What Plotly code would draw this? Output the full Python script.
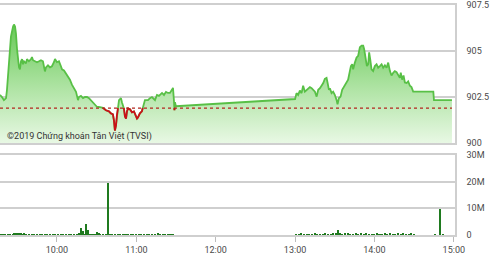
import numpy as np
import pandas as pd
import plotly.graph_objects as go

DAY = "2019-01-02"

# minutes after 09:00 and index values
price_min = [16.9, 18.4, 19.9, 21.5, 22.2, 23.7, 25.2, 26.8, 27.5, 28.3, 29.0, 29.8, 30.5, 31.3, 32.0,
             32.8, 33.6, 34.3, 35.1, 36.6, 37.3, 38.8, 40.4, 41.1, 41.9, 43.4, 44.9, 46.4, 47.9, 49.4,
             50.2, 50.9, 51.7, 53.2, 54.7, 56.2, 57.7, 58.5, 60.0, 61.5, 63.0, 63.8, 65.3, 66.8, 68.3,
             69.8, 71.3, 72.9, 74.4, 75.9, 76.6, 78.1, 79.7, 81.2, 82.7, 84.2, 85.7, 88.0, 90.2, 92.5,
             94.8, 97.0, 99.3, 100.8, 102.3, 103.1, 103.8, 104.6, 105.3, 106.1, 106.9, 108.4, 109.1, 110.6,
             111.4, 112.2, 112.9, 113.7, 115.2, 116.7, 118.2, 119.7, 120.5, 121.2, 122.7, 124.2, 125.0,
             126.5, 127.3, 128.8, 130.3, 131.8, 134.1, 135.6, 137.1, 139.4, 140.9, 142.4, 143.9, 145.4,
             146.9, 147.7, 148.4, 148.8, 149.2, 149.9,
             240.0, 241.1, 242.3, 243.6, 244.9, 246.1, 247.4, 248.7, 249.9, 251.2, 252.5, 253.7, 255.0,
             256.3, 257.5, 258.8, 260.0, 261.3, 262.5, 263.8, 264.6, 265.6, 266.3, 267.6, 268.8, 270.1,
             271.4, 272.1, 273.1, 274.4, 275.6, 277.1, 278.4, 280.1, 281.4, 282.2, 283.2, 283.9, 285.2,
             286.5, 287.7, 289.0, 290.3, 291.5, 292.2, 293.3, 294.3, 295.3, 296.0, 296.8, 297.8, 299.0,
             300.3, 301.6, 302.8, 304.1, 305.4, 306.6, 307.9, 309.2, 310.4, 311.7, 312.9, 314.2, 315.4,
             316.7, 317.9, 319.2, 319.9, 320.9, 322.0, 323.0, 324.3, 325.5, 326.8, 328.0, 329.3, 330.5,
             344.5, 345.0, 358.6]
price_val = [902.61, 902.50, 902.33, 902.44, 902.89, 904.56, 905.78, 906.33, 906.44, 906.33, 905.94, 905.11,
             904.44, 904.11, 904.00, 904.44, 904.56, 904.28, 904.44, 904.33, 904.56, 904.44, 904.56, 904.67,
             904.50, 904.44, 904.39, 904.44, 904.50, 904.44, 904.00, 903.89, 904.11, 904.22, 904.11, 904.17,
             904.39, 904.56, 904.39, 904.44, 904.17, 904.00, 903.94, 903.78, 903.61, 903.44, 903.17, 903.00,
             902.78, 902.33, 902.50, 902.56, 902.44, 902.50, 902.50, 902.44, 902.33, 902.11, 901.97, 901.95,
             901.91, 901.78, 901.72, 901.61, 901.56, 901.22, 900.67, 900.94, 901.50, 901.88, 902.33, 902.44,
             902.22, 901.88, 901.44, 901.33, 901.72, 901.88, 901.83, 901.67, 901.72, 901.50, 901.33, 901.39,
             901.61, 901.72, 901.95, 902.33, 902.33, 902.33, 902.44, 902.50, 902.33, 902.61, 902.56, 902.72,
             902.61, 902.78, 902.72, 902.72, 902.89, 903.00, 902.33, 901.78, 902.22, 902.00,
             902.39, 902.71, 902.61, 902.85, 902.71, 903.11, 902.79, 902.89, 902.98, 903.04, 902.98, 902.89,
             902.79, 902.52, 902.89, 902.98, 903.11, 903.26, 903.48, 903.54, 903.26, 902.89, 902.98, 902.71,
             902.79, 902.61, 902.33, 902.11, 902.43, 902.52, 902.89, 903.07, 903.26, 903.44, 903.91, 904.18,
             904.28, 904.00, 904.37, 904.65, 904.74, 905.21, 905.29, 905.29, 905.11, 904.46, 904.18, 904.28,
             904.93, 904.56, 904.00, 903.91, 904.18, 904.28, 904.09, 904.18, 904.28, 904.09, 904.22, 904.09,
             904.37, 903.91, 903.67, 903.82, 903.91, 903.85, 903.72, 903.54, 903.82, 903.44, 903.67, 903.29,
             903.26, 903.35, 903.11, 903.04, 902.79, 902.79, 902.79, 902.33, 902.33]

# volume (millions) at minutes after 09:00
vol_min = [17, 19, 21, 23, 25, 27, 28, 29, 30, 31, 32, 33, 34, 35, 36, 37, 39, 41, 43, 45, 47, 49, 51, 53,
           55, 57, 59, 61, 63, 65, 67, 69, 71, 73, 75, 77, 78.7, 79.9, 81, 82.4, 83.7, 85, 86, 87, 88, 89,
           90.2, 91.7, 93, 95, 97, 98.8, 100, 102, 104, 106, 108, 110, 112, 114, 116, 118, 120, 122, 124,
           126, 128, 130, 132, 134, 136.3, 138, 140, 142, 144, 146, 148,
           241, 243, 245, 247, 249, 251, 253, 255, 257, 259, 261, 263, 265, 267, 269, 271, 272.4, 274,
           276, 278, 280, 282, 284, 286, 288, 290, 292, 294, 296, 298, 300, 302, 304, 306, 308, 310, 312,
           314, 316, 318, 320, 322, 324, 326, 328, 330, 346, 349.4, 351.7]
vol_val = [0.4, 0.3, 0.2, 0.3, 0.2, 0.3, 0.6, 0.7, 0.5, 0.7, 0.6, 0.8, 0.5, 0.6, 0.4, 0.3, 0.3, 0.2, 0.4, 0.2,
           0.3, 0.2, 0.3, 0.2, 0.2, 0.4, 0.3, 0.2, 0.3, 0.2, 0.2, 0.3, 0.2, 0.4, 0.3, 0.6, 2.5, 1.6, 0.5,
           4.1, 1.9, 0.4, 0.3, 0.5, 0.4, 0.3, 1.2, 0.9, 0.5, 0.3, 0.4, 19.4, 0.3, 0.4, 0.2, 0.3, 0.2, 0.3,
           0.2, 0.3, 0.2, 0.4, 0.3, 0.2, 0.3, 0.2, 0.3, 0.2, 0.3, 0.2, 0.8, 0.3, 0.2, 0.3, 0.2, 0.3, 0.2,
           0.3, 0.4, 0.6, 0.3, 0.5, 0.4, 0.3, 0.6, 0.4, 0.5, 0.3, 0.6, 0.4, 0.5, 0.7, 0.6, 1.9, 0.7,
           0.5, 0.8, 0.6, 0.5, 0.4, 0.6, 0.5, 0.7, 0.4, 0.6, 0.5, 0.4, 0.5, 0.6, 0.4, 0.5, 0.7, 0.4,
           0.6, 0.5, 0.4, 0.6, 0.5, 0.7, 0.5, 0.4, 0.6, 0.5, 0.4, 9.7, 0.4, 0.4]

REF = 901.9
price_ticks = [900, 902.5, 905, 907.5]
price_tick_text = ["900", "902.5", "905", "907.5"]
vol_ticks = [0, 10, 20, 30]
vol_tick_text = ["0", "10M", "20M", "30M"]
time_ticks = ["10:00", "11:00", "12:00", "13:00", "14:00", "15:00"]

base = pd.Timestamp(DAY + " 09:00")


def tm(m):
    return base + pd.to_timedelta(np.asarray(m, dtype=float), unit="m")


# split line into portions below the reference (red)
dm, dv = [], []
for i in range(len(price_min)):
    if i > 0:
        a, b = price_val[i - 1], price_val[i]
        if (a - REF) * (b - REF) < 0:
            f = (REF - a) / (b - a)
            dm.append(price_min[i - 1] + f * (price_min[i] - price_min[i - 1]))
            dv.append(REF)
    dm.append(price_min[i])
    dv.append(price_val[i])
red_v = [v if v <= REF + 1e-9 else None for v in dv]

GREEN = "#58c046"
RED = "#cc0f19"

fig = go.Figure()
fig.add_trace(go.Scatter(
    x=tm(price_min), y=price_val, mode="lines", xaxis="x2", yaxis="y2",
    line=dict(color=GREEN, width=1.8), fill="tozeroy",
    fillgradient=dict(type="vertical", start=900, stop=906.5,
                      colorscale=[[0, "rgba(232,248,228,1)"], [0.45, "rgba(176,228,165,1)"],
                                  [1, "rgba(102,200,85,1)"]]),
    hoverinfo="skip"))
fig.add_trace(go.Scatter(
    x=tm(dm), y=red_v, mode="lines", xaxis="x2", yaxis="y2",
    line=dict(color=RED, width=1.8), connectgaps=False, hoverinfo="skip"))
fig.add_trace(go.Scatter(
    x=[tm([16.93])[0], tm([358.6])[0]], y=[REF, REF], mode="lines", xaxis="x2", yaxis="y2",
    line=dict(color="#b3261e", width=1.2, dash="dot"), hoverinfo="skip"))
fig.add_trace(go.Bar(
    x=tm(vol_min), y=vol_val, xaxis="x", yaxis="y",
    marker=dict(color="#1f7a1f", line=dict(width=0)), width=70000, hoverinfo="skip"))

xr = [tm([16.93])[0], tm([360.9])[0]]
grid = "#cfcfcf"
fig.update_layout(
    width=490, height=280, margin=dict(l=0, r=35, t=5, b=45),
    plot_bgcolor="white", paper_bgcolor="white", showlegend=False, bargap=0,
    font=dict(family="Roboto", size=9, color="#4a4a4a"),
    xaxis=dict(domain=[0, 1], anchor="y", type="date", range=xr,
               tickvals=[pd.Timestamp(DAY + " " + s) for s in time_ticks], ticktext=time_ticks,
               ticks="outside", ticklen=5, tickcolor="#bbb", showgrid=False,
               showline=True, linecolor=grid, linewidth=1.5, mirror=True, zeroline=False),
    yaxis=dict(domain=[0, 0.348], anchor="x", range=[0, 30], side="right",
               tickvals=vol_ticks, ticktext=vol_tick_text, gridcolor=grid, gridwidth=1.5,
               showline=True, linecolor=grid, linewidth=1.5, zeroline=False,
               ticks="outside", ticklen=8, tickcolor="rgba(0,0,0,0)"),
    xaxis2=dict(domain=[0, 1], anchor="y2", type="date", matches="x", showticklabels=False,
                showgrid=False, showline=True, linecolor=grid, linewidth=1.5, mirror=True,
                ticks="", zeroline=False),
    yaxis2=dict(domain=[0.4, 1], anchor="x2", range=[900, 907.5], side="right",
                tickvals=price_ticks, ticktext=price_tick_text, gridcolor=grid, gridwidth=1.5,
                showline=True, linecolor=grid, linewidth=1.5, zeroline=False,
                ticks="outside", ticklen=8, tickcolor="rgba(0,0,0,0)"),
)
fig.add_annotation(text="©2019 Chứng khoán Tân Việt (TVSI)", xref="paper", yref="y2",
                   x=0.01, y=900.35, xanchor="left", yanchor="middle", showarrow=False,
                   font=dict(family="Roboto", size=9, color="#333"))

fig.write_html("out.html")
